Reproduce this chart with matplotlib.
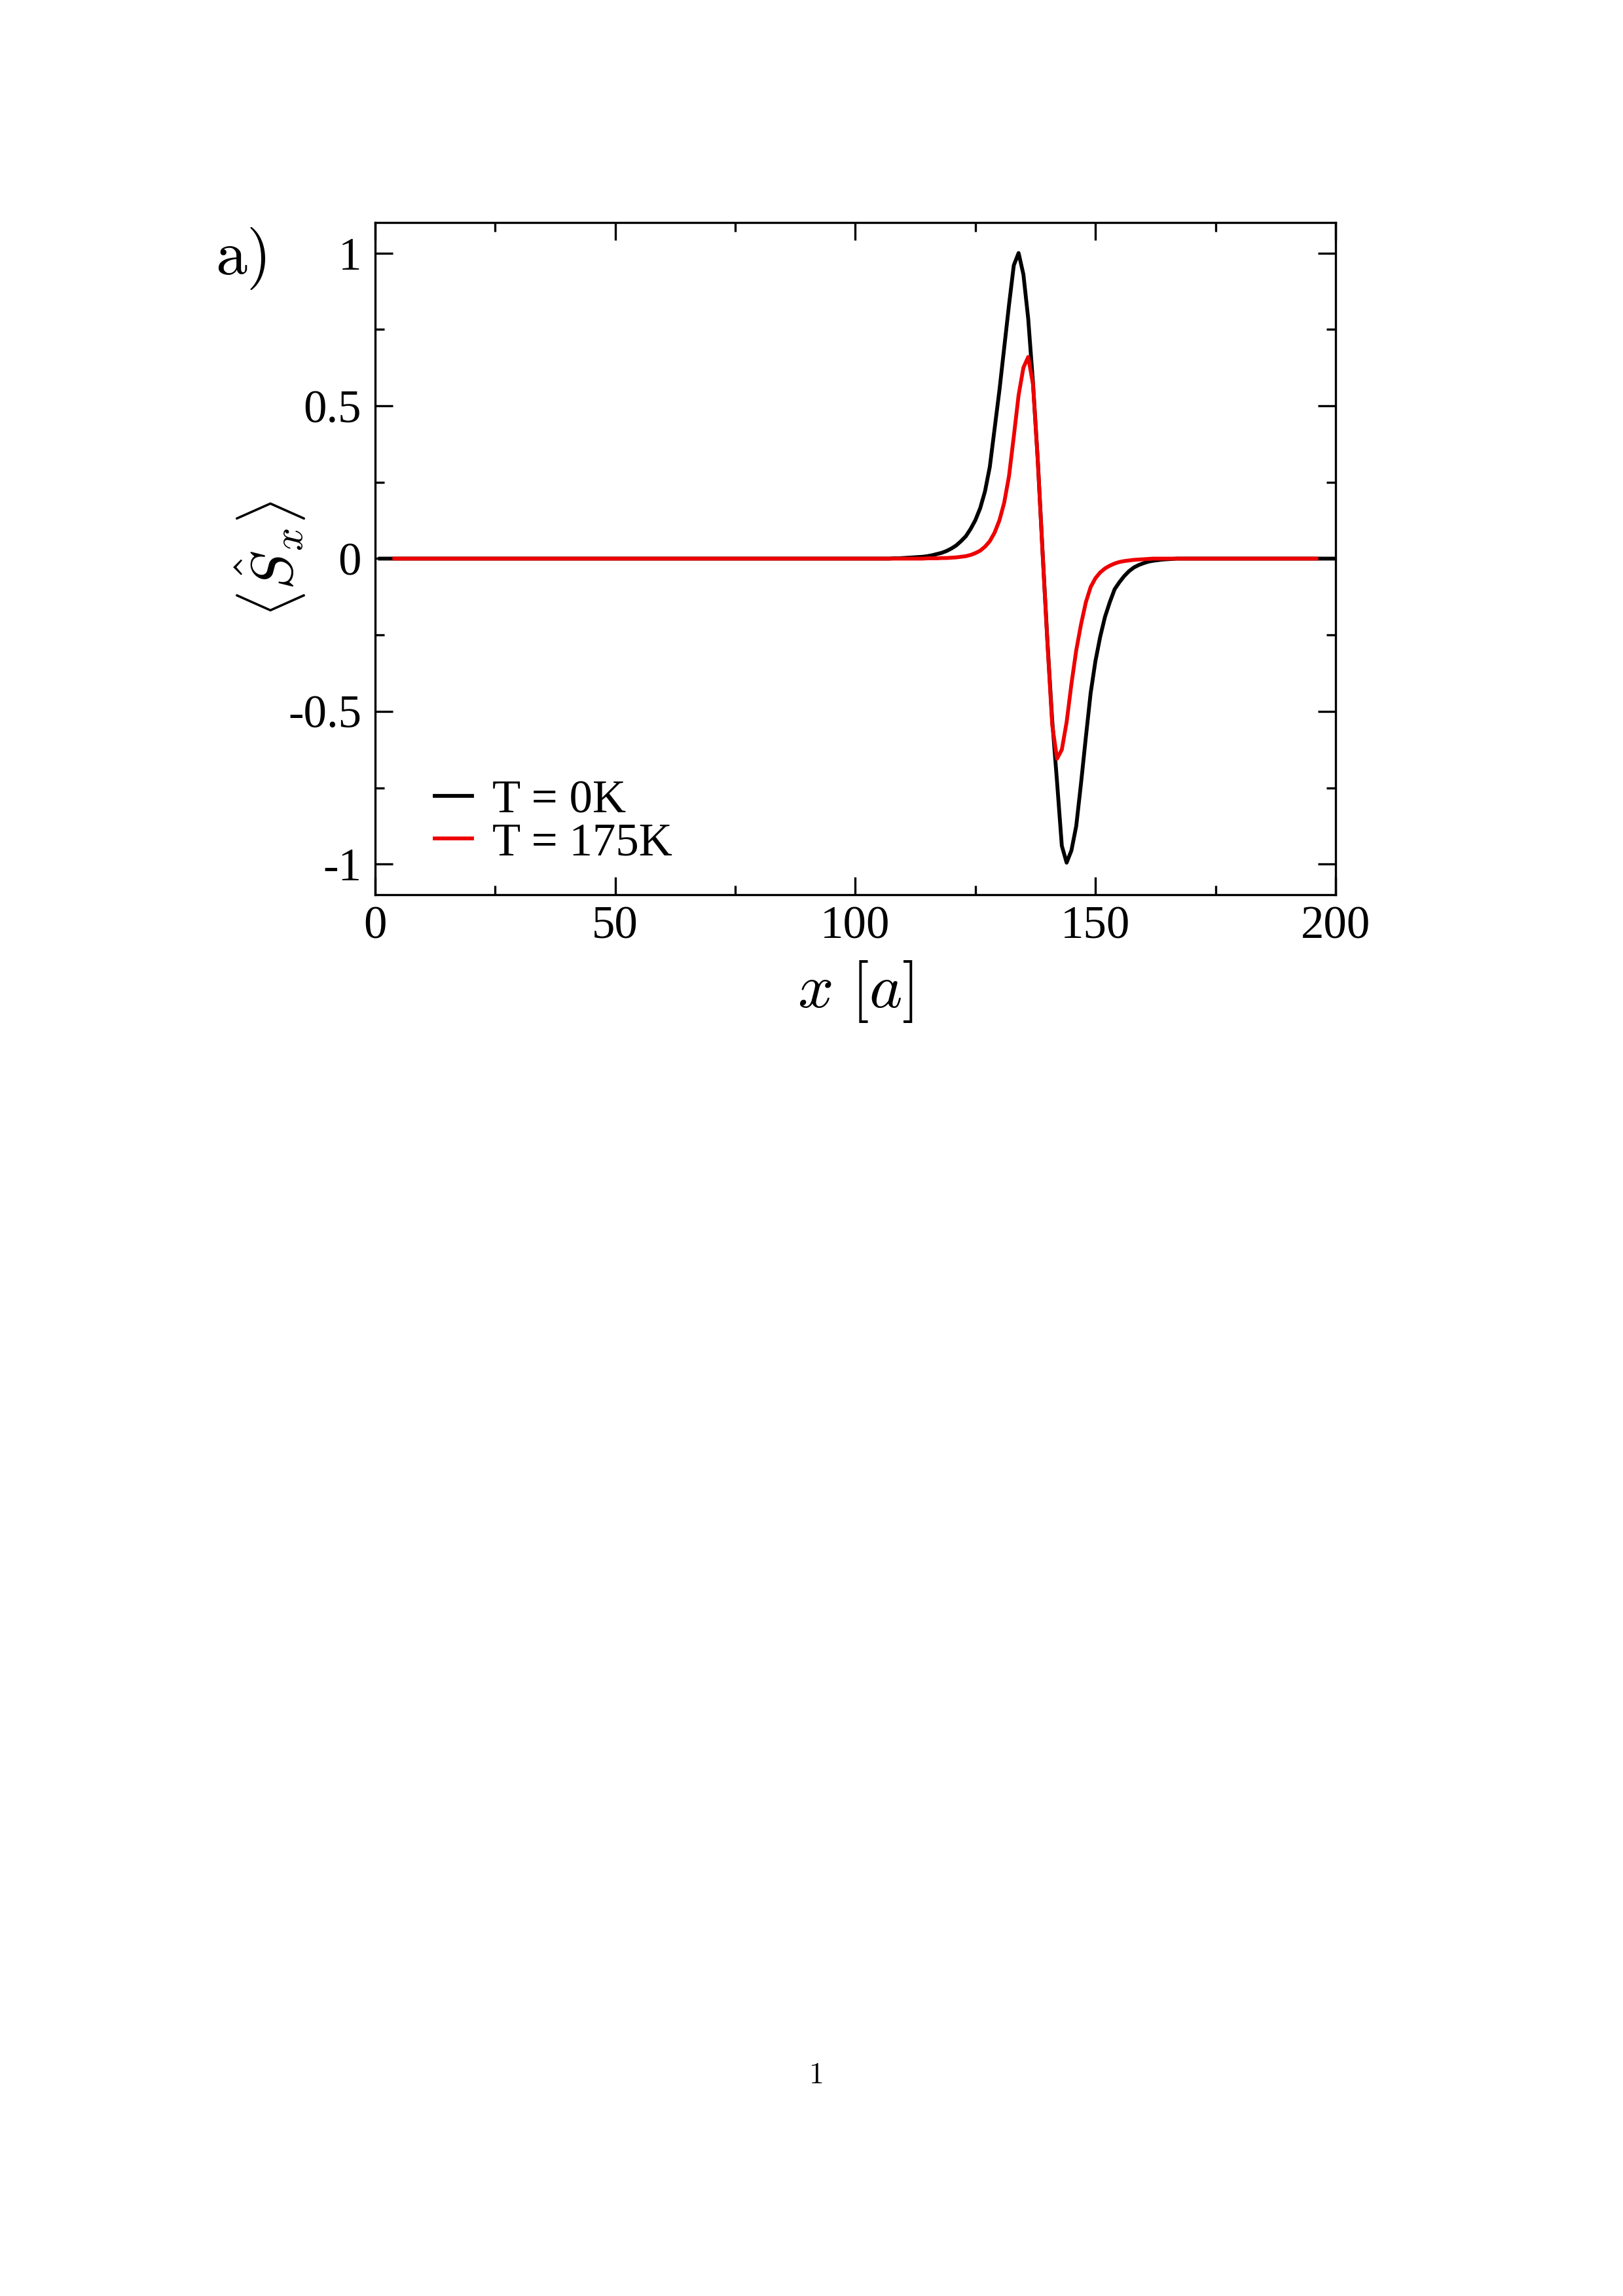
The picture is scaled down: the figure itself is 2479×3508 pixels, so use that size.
import numpy as np
import matplotlib
matplotlib.use("Agg")
import matplotlib.pyplot as plt
from matplotlib.ticker import MultipleLocator, FuncFormatter

plt.rcParams["font.family"] = ["Liberation Serif", "DejaVu Serif"]
plt.rcParams["mathtext.fontset"] = "cm"
plt.rcParams["axes.unicode_minus"] = False

# lattice sites for each curve
x_black = np.arange(1, 201)
x_red = np.arange(4, 197)

# <Sx> at T = 0K, sites 108..170 (zero elsewhere)
sx_black_core = [
    0.001, 0.001, 0.002, 0.003, 0.004, 0.005, 0.006, 0.008, 0.011, 0.015,
    0.019, 0.025, 0.033, 0.043, 0.057, 0.073, 0.097, 0.126, 0.165, 0.22,
    0.30, 0.425, 0.55, 0.69, 0.83, 0.96, 1.00, 0.93, 0.785, 0.575,
    0.32, 0.02, -0.27, -0.53, -0.73, -0.94, -0.995, -0.955, -0.875, -0.735,
    -0.585, -0.44, -0.335, -0.255, -0.19, -0.142, -0.10, -0.077, -0.057, -0.041,
    -0.029, -0.021, -0.015, -0.010, -0.007, -0.005, -0.003, -0.002, -0.001, 0.0,
    0.0, 0.0, 0.0,
]
# <Sx> at T = 175K, sites 115..165 (zero elsewhere)
sx_red_core = [
    0.001, 0.001, 0.001, 0.002, 0.002, 0.003, 0.004, 0.006, 0.008, 0.012,
    0.018, 0.026, 0.039, 0.057, 0.085, 0.125, 0.183, 0.27, 0.40, 0.535,
    0.625, 0.66, 0.57, 0.32, 0.015, -0.275, -0.545, -0.655, -0.625, -0.535,
    -0.41, -0.30, -0.215, -0.143, -0.093, -0.064, -0.045, -0.032, -0.023, -0.016,
    -0.011, -0.008, -0.006, -0.004, -0.003, -0.002, -0.001, 0.0, 0.0, 0.0,
    0.0,
]

sx_black = np.zeros(len(x_black))
sx_black[107:107 + len(sx_black_core)] = sx_black_core
sx_red = np.zeros(len(x_red))
sx_red[111:111 + len(sx_red_core)] = sx_red_core

labels = ["T = 0K", "T = 175K"]

fig = plt.figure(figsize=(2479 / 300, 3508 / 300), dpi=300)
ax = fig.add_axes([0.2311, 0.6103, 0.5918, 0.2928])

ax.plot(x_black, sx_black, color="black", lw=1.4, label=labels[0])
ax.plot(x_red, sx_red, color="#ee0000", lw=1.4, label=labels[1])

ax.set_xlim(0, 200)
ax.set_ylim(-1.1, 1.1)
ax.xaxis.set_major_locator(MultipleLocator(50))
ax.xaxis.set_minor_locator(MultipleLocator(25))
ax.yaxis.set_major_locator(MultipleLocator(0.5))
ax.yaxis.set_minor_locator(MultipleLocator(0.25))
fmt = FuncFormatter(lambda v, p: "%g" % v)
ax.xaxis.set_major_formatter(fmt)
ax.yaxis.set_major_formatter(fmt)

ax.tick_params(which="both", direction="in", top=True, right=True, width=0.8)
ax.tick_params(which="major", length=6.5, labelsize=17)
ax.tick_params(axis="x", which="major", pad=4)
ax.tick_params(axis="y", which="major", pad=5)
ax.tick_params(which="minor", length=3.4)
for s in ax.spines.values():
    s.set_linewidth(0.8)

ax.set_xlabel(r"$x\ [a]$", fontsize=23)
ax.set_ylabel(r"$\langle \hat{S}_x \rangle$", fontsize=21.5)
ax.xaxis.set_label_coords(0.5, -0.095)
ax.yaxis.set_label_coords(-0.07, 0.5)

ax.legend(loc="center left", bbox_to_anchor=(0.062, 0.108), frameon=False,
          fontsize=17, handlelength=0.8, handletextpad=0.45,
          labelspacing=0.0, borderpad=0, borderaxespad=0)

fig.text(368 / 2479, 1 - 395 / 3508, r"$\mathrm{a)}$", fontsize=23,
         ha="center", va="center")
fig.text(1246 / 2479, 1 - 3172 / 3508, r"$\mathrm{1}$", fontsize=11,
         ha="center", va="center")

fig.savefig("out.png", dpi=300)
